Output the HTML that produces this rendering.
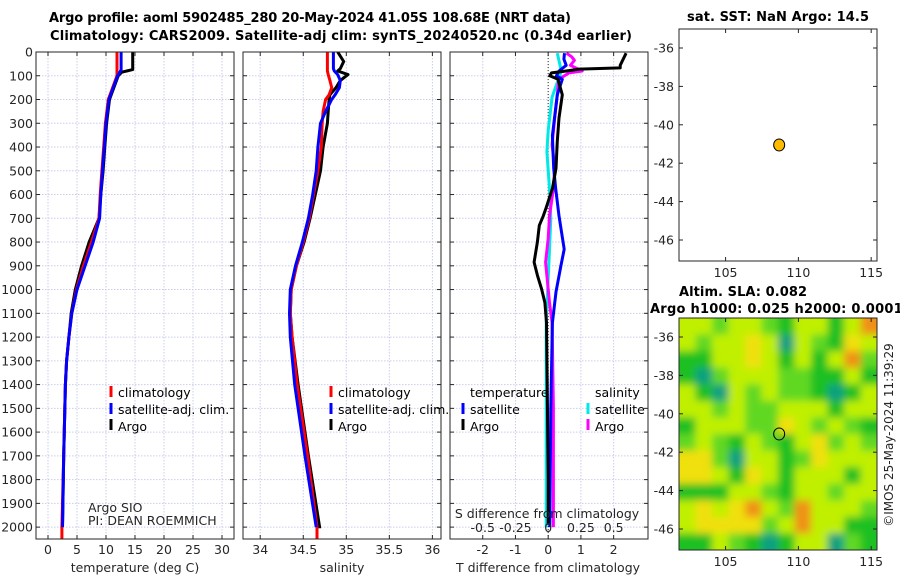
<!DOCTYPE html>
<html><head><meta charset="utf-8"><style>
html,body{margin:0;padding:0;background:#fff;}
svg{display:block;font-family:"DejaVu Sans","Liberation Sans",sans-serif;}
.tk{font-size:12.5px;fill:#262626;}
.tt{font-size:13px;font-weight:bold;fill:#000;}
.lg{font-size:12.5px;fill:#000;}
</style></head><body>
<svg id="fig" width="900" height="580" viewBox="0 0 900 580" xmlns="http://www.w3.org/2000/svg">
<defs>
<clipPath id="cp1"><rect x="36" y="52" width="198" height="487"/></clipPath>
<clipPath id="cp2"><rect x="243" y="52" width="198" height="487"/></clipPath>
<clipPath id="cp3"><rect x="450" y="52" width="198" height="487"/></clipPath>
<clipPath id="cpm"><rect x="679" y="318" width="198" height="232"/></clipPath>
<filter id="blur" x="-5%" y="-5%" width="110%" height="110%"><feGaussianBlur stdDeviation="4"/></filter>
</defs>
<text class="tt" x="310" y="22" text-anchor="middle" textLength="522">Argo profile: aoml 5902485_280 20-May-2024 41.05S 108.68E (NRT data)</text>
<text class="tt" x="341" y="40" text-anchor="middle" textLength="582">Climatology: CARS2009. Satellite-adj clim: synTS_20240520.nc (0.34d earlier)</text>
<text class="tt" x="778" y="21" text-anchor="middle" textLength="182">sat. SST: NaN Argo: 14.5</text>
<text class="tt" x="743" y="296" text-anchor="middle" textLength="128">Altim. SLA: 0.082</text>
<text class="tt" x="650" y="313" textLength="262">Argo h1000: 0.025 h2000: 0.00014</text>
<text x="893" y="435" font-size="12" fill="#262626" text-anchor="middle" transform="rotate(-90 893 435)">©IMOS 25-May-2024 11:39:29</text>
<g id="layer"></g>
</svg>
<script>
// ---- data ----
const depthTicks = [0,100,200,300,400,500,600,700,800,900,1000,1100,1200,1300,1400,1500,1600,1700,1800,1900,2000];
const tempTicks = [0,5,10,15,20,25,30];
const salTicks = [34,34.5,35,35.5,36];
const salTickLabels = ["34","34.5","35","35.5","36"];
const tdiffTicks = [-2,-1,0,1,2];
const sdiffTicks = [-0.5,-0.25,0,0.25,0.5];
const sdiffTickLabels = ["-0.5","-0.25","0","0.25","0.5"];

const tempClimDepth = [0,75,85,100,200,300,400,500,600,700,800,900,1000,1100,1200,1300,1400,1700,2000,2050];
const tempClim = [11.9,11.9,11.9,11.9,10.4,9.9,9.6,9.3,9.0,8.8,7.5,6.1,4.9,4.1,3.6,3.2,3.0,2.7,2.4,2.4];
const tempSatDepth = [0,75,85,100,200,300,400,500,600,700,800,900,1000,1100,1200,1300,1400,1700,2000];
const tempSat = [12.6,12.6,12.4,12.0,10.5,10.0,9.7,9.4,9.1,8.9,7.8,6.4,5.0,4.1,3.6,3.2,3.0,2.7,2.5];
const tempArgoDepth = [0,74,85,100,200,300,400,500,600,700,800,900,1000,1100,1200,1300,1400,1700,2000];
const tempArgo = [14.6,14.6,12.7,12.1,10.6,10.1,9.8,9.5,9.1,8.8,7.1,5.8,4.7,4.0,3.6,3.2,3.0,2.7,2.5];

const salDepth = [0,40,70,80,95,120,150,180,200,250,300,400,500,600,700,800,900,1000,1100,1200,1400,1700,2000];
const salClim = [34.78,34.78,34.78,34.78,34.79,34.81,34.83,34.80,34.76,34.73,34.72,34.71,34.67,34.62,34.57,34.50,34.42,34.36,34.35,34.37,34.43,34.55,34.66];
const salSat = [34.85,34.85,34.85,34.86,34.90,34.93,34.92,34.87,34.83,34.76,34.70,34.67,34.65,34.61,34.56,34.49,34.41,34.35,34.34,34.35,34.40,34.52,34.65];
const salArgo = [34.90,34.97,34.93,34.90,35.02,34.93,34.88,34.81,34.80,34.79,34.78,34.73,34.70,34.64,34.58,34.51,34.42,34.36,34.35,34.37,34.44,34.56,34.69];

const dTArgoDepth = [5,56,67,72,80,88,100,115,180,278,375,490,575,655,690,730,800,885,940,998,1055,1140,1400,1800,1990];
const dTArgo = [2.38,2.2,2.2,0.95,0.55,0.1,0.05,0.3,0.43,0.33,0.28,0.24,0.13,-0.06,-0.15,-0.27,-0.33,-0.43,-0.33,-0.2,-0.1,-0.05,-0.03,0,0];
const dTSatDepth = [5,30,56,80,100,115,180,352,490,575,690,830,900,1010,1140,1500,2000];
const dTSat = [0.5,0.48,0.55,0.33,0.25,0.43,0.28,0.13,0.17,0.23,0.33,0.49,0.39,0.24,0.13,0.08,0.05];
const dSArgoDepth = [5,20,35,56,80,88,115,180,278,390,490,575,690,785,885,998,1055,1140,1500,2000];
const dSArgo = [0.14,0.18,0.2,0.17,0.26,0.16,0.08,0.07,0.05,0.03,0.05,0.04,0.01,0,-0.02,0,0.01,0.03,0.04,0.04];
const dSSatDepth = [5,80,190,330,420,575,700,830,1140,1500,2000];
const dSSat = [0.07,0.1,0.03,0,-0.01,0.01,0.02,0.01,-0.015,-0.015,-0.015];

const lonTicks = [105,110,115];
const latTicks = [-36,-38,-40,-42,-44,-46];
const argoLon = 108.68;
const argoLat = -41.05;
// SLA grid values (rows north->south, cols west->east), 0=low ... 5=high
const slaGrid = [
[3,3,2,3,3,2,1,3,3,1,3,5],
[3,2,3,3,4,3,0,3,2,1,4,3],
[1,1,3,3,4,3,1,3,1,3,5,2],
[1,0,2,3,3,3,2,2,1,1,3,1],
[3,1,0,3,2,3,2,2,1,0,1,3],
[3,3,2,3,2,2,3,3,3,1,3,3],
[1,3,3,3,2,2,4,3,2,3,2,1],
[2,3,2,1,3,2,1,3,4,2,3,2],
[4,4,2,0,3,3,1,2,4,3,3,3],
[4,4,3,1,4,3,1,3,3,3,1,3],
[1,1,1,3,3,2,1,3,3,2,3,3],
[3,4,3,4,5,3,2,5,3,3,3,2],
[3,4,4,4,4,2,3,5,3,3,1,1],
[1,1,3,2,1,0,1,3,3,0,2,1]];
const slaColors = ["#10a080","#1cc020","#60d820","#c0f000","#f0e010","#f09018"];

// ---- drawing ----
const NS="http://www.w3.org/2000/svg";
const layer=document.getElementById('layer');
function mk(tag,attrs,parent){const e=document.createElementNS(NS,tag);for(const k in attrs)e.setAttribute(k,attrs[k]);(parent||layer).appendChild(e);return e;}
const TOP=52,BOT=539,DMIN=0,DMAX=2050;
const yD=d=>TOP+(d-DMIN)/(DMAX-DMIN)*(BOT-TOP);

function panel(x0,x1,xmin,xmax,name){
  const sx=v=>x0+(v-xmin)/(xmax-xmin)*(x1-x0);
  const g=mk('g',{});
  
  
  return {sx,g,x0,x1};
}
function grid(p,ticks){
  ticks.forEach(t=>{const l=mk('line',{x1:p.sx(t),x2:p.sx(t),y1:TOP,y2:BOT,stroke:'#c9cdea','stroke-width':1,'stroke-dasharray':'1.5,1.5'},p.g);
    });
  depthTicks.forEach(d=>{const l=mk('line',{x1:p.x0,x2:p.x1,y1:yD(d),y2:yD(d),stroke:'#c9cdea','stroke-width':1,'stroke-dasharray':'1.5,1.5'},p.g);
    });
}
function frame(p,ticks,labels,labY,withDepthLabels){
  const r=mk('rect',{x:p.x0,y:TOP,width:p.x1-p.x0,height:BOT-TOP,fill:'none',stroke:'#262626','stroke-width':1},p.g);
  
  depthTicks.forEach(d=>{
    mk('line',{x1:p.x0,x2:p.x0+4,y1:yD(d),y2:yD(d),stroke:'#262626'},p.g);
    mk('line',{x1:p.x1-4,x2:p.x1,y1:yD(d),y2:yD(d),stroke:'#262626'},p.g);
    if(withDepthLabels){const t=mk('text',{x:p.x0-3,y:yD(d)+4.5,'text-anchor':'end',class:'tk'},p.g);t.textContent=d;
      }
  });
  if(ticks) ticks.forEach((v,i)=>{
    mk('line',{x1:p.sx(v),x2:p.sx(v),y1:BOT,y2:BOT-4,stroke:'#262626'},p.g);
    mk('line',{x1:p.sx(v),x2:p.sx(v),y1:TOP,y2:TOP+4,stroke:'#262626'},p.g);
    const t=mk('text',{x:p.sx(v),y:labY,'text-anchor':'middle',class:'tk'},p.g);t.textContent=labels?labels[i]:v;
    
  });
}
function line(p,xs,ds,color,w,name,clip){
  const pts=xs.map((v,i)=>p.sx(v).toFixed(1)+','+yD(ds[i]).toFixed(1)).join(' ');
  const l=mk('polyline',{points:pts,fill:'none',stroke:color,'stroke-width':w,'stroke-linejoin':'round','clip-path':'url(#'+clip+')'},p.g);
  
}
function txt(x,y,s,cls,name,anchor){const t=mk('text',{x,y,class:cls,'text-anchor':anchor||'start'});t.textContent=s;
  return t;}
function legendMark(x,y,color,name){const r=mk('rect',{x:x-1.5,y:y-11,width:3,height:11,fill:color});
  }

// panel 1 temperature
const p1=panel(36,234,-2.07,32.07,'temperature-panel');
grid(p1,tempTicks);
line(p1,tempArgo,tempArgoDepth,'#000',3,'argo-temperature-line','cp1');
line(p1,tempClim,tempClimDepth,'#f00',3,'climatology-temperature-line','cp1');
line(p1,tempSat,tempSatDepth,'#00f',3,'satellite-temperature-line','cp1');
frame(p1,tempTicks,null,554,true);
txt(135,572,'temperature (deg C)','tk','temperature-axis-title','middle').setAttribute('font-size','13');
legendMark(111,397,'#f00','legend-climatology-marker');txt(118,397,'climatology','lg','legend-climatology');
legendMark(111,414,'#00f','legend-satellite-marker');txt(118,414,'satellite-adj. clim.','lg','legend-satellite-adj');
legendMark(111,430,'#000','legend-argo-marker');txt(118,431,'Argo','lg','legend-argo');
txt(88,512,'Argo SIO','tk','argo-sio-label').setAttribute('font-size','10.5');
txt(88,525,'PI: DEAN ROEMMICH','tk','pi-label').setAttribute('font-size','10.5');

// panel 2 salinity
const p2=panel(243,441,33.8,36.1,'salinity-panel');
grid(p2,salTicks);
line(p2,salArgo.concat([salArgo[salArgo.length-1]]),salDepth.concat([2005]),'#000',3,'argo-salinity-line','cp2');
line(p2,salClim.concat([34.66]),salDepth.concat([2050]),'#f00',3,'climatology-salinity-line','cp2');
line(p2,salSat,salDepth,'#00f',3,'satellite-salinity-line','cp2');
frame(p2,salTicks,salTickLabels,554,false);
txt(342,572,'salinity','tk','salinity-axis-title','middle').setAttribute('font-size','13');
legendMark(331,397,'#f00','legend-climatology-marker-2');txt(338,397,'climatology','lg','legend-climatology-2');
legendMark(331,414,'#00f','legend-satellite-marker-2');txt(338,414,'satellite-adj. clim.','lg','legend-satellite-adj-2');
legendMark(331,430,'#000','legend-argo-marker-2');txt(338,431,'Argo','lg','legend-argo-2');

// panel 3 differences
const p3=panel(450,648,-3.0,3.05,'difference-panel');
const p3s={sx:v=>p3.sx(v*4),g:p3.g,x0:450,x1:648};
grid(p3,tdiffTicks);
const z=mk('line',{x1:p3.sx(0),x2:p3.sx(0),y1:TOP,y2:BOT,stroke:'#333','stroke-width':1,'stroke-dasharray':'1,2'},p3.g);

line(p3s,dSSat,dSSatDepth,'#00e8e8',3,'satellite-salinity-diff-line','cp3');
line(p3s,dSArgo,dSArgoDepth,'#ff00ff',3,'argo-salinity-diff-line','cp3');
line(p3,dTSat,dTSatDepth,'#00f',3,'satellite-temperature-diff-line','cp3');
line(p3,dTArgo,dTArgoDepth,'#000',3,'argo-temperature-diff-line','cp3');
frame(p3,tdiffTicks,null,554,false);
sdiffTicks.forEach((v,i)=>{txt(p3s.sx(v),532,sdiffTickLabels[i],'tk','s-diff-tick-label','middle');});
txt(547,518,'S difference from climatology','tk','s-diff-axis-title','middle').setAttribute('font-size','13');
txt(548,572,'T difference from climatology','tk','t-diff-axis-title','middle').setAttribute('font-size','13');
txt(470,397,'temperature','lg','legend-temperature-heading');
txt(595,397,'salinity','lg','legend-salinity-heading');
legendMark(463,414,'#00f','legend-t-satellite-marker');txt(470,414,'satellite','lg','legend-t-satellite');
legendMark(463,430,'#000','legend-t-argo-marker');txt(470,431,'Argo','lg','legend-t-argo');
legendMark(588,414,'#00e8e8','legend-s-satellite-marker');txt(595,414,'satellite','lg','legend-s-satellite');
legendMark(588,430,'#ff00ff','legend-s-argo-marker');txt(595,431,'Argo','lg','legend-s-argo');

// maps
const MX0=679,MX1=877,LON0=101.8,LON1=115.4;
const mlon=v=>MX0+(v-LON0)/(LON1-LON0)*(MX1-MX0);
function map(top,name,heat){
  const bot=top+232;
  const mlat=v=>top+19+(-36-v)*19.2;
  const g=mk('g',{});
  if(heat){
    const hg=mk('g',{'clip-path':'url(#cpm)'},g);
    const inner=mk('g',{filter:'url(#blur)'},hg);
    const rows=slaGrid.length,cols=slaGrid[0].length;
    const cw=(MX1-MX0)/cols,ch=(bot-top)/rows;
    slaGrid.forEach((row,r)=>row.forEach((v,c)=>{
      const cell=mk('rect',{x:MX0+c*cw-(c==0?12:0),y:top+r*ch-(r==0?12:0),width:cw+1+(c==0||c==cols-1?12:0),height:ch+1+(r==0||r==rows-1?12:0),fill:slaColors[v]},inner);
      
    }));
  }
  const b=mk('rect',{x:MX0,y:top,width:MX1-MX0,height:bot-top,fill:'none',stroke:'#262626'},g);
  
  latTicks.forEach(v=>{
    mk('line',{x1:MX0,x2:MX0+4,y1:mlat(v),y2:mlat(v),stroke:'#262626'},g);
    mk('line',{x1:MX1-4,x2:MX1,y1:mlat(v),y2:mlat(v),stroke:'#262626'},g);
    const t=mk('text',{x:MX0-5,y:mlat(v)+4.5,'text-anchor':'end',class:'tk'},g);t.textContent=v;
    
  });
  lonTicks.forEach(v=>{
    mk('line',{x1:mlon(v),x2:mlon(v),y1:bot,y2:bot-4,stroke:'#262626'},g);
    mk('line',{x1:mlon(v),x2:mlon(v),y1:top,y2:top+4,stroke:'#262626'},g);
    const t=mk('text',{x:mlon(v),y:bot+16,'text-anchor':'middle',class:'tk'},g);t.textContent=v;
    
  });
  const d=mk('ellipse',{cx:mlon(argoLon),cy:mlat(argoLat),rx:5.5,ry:6,fill:heat?'none':'#ffbb00',stroke:'#000','stroke-width':1},g);
  
}
map(29,'sst-map',false);
map(318,'sla-map',true);
</script>
</body></html>
